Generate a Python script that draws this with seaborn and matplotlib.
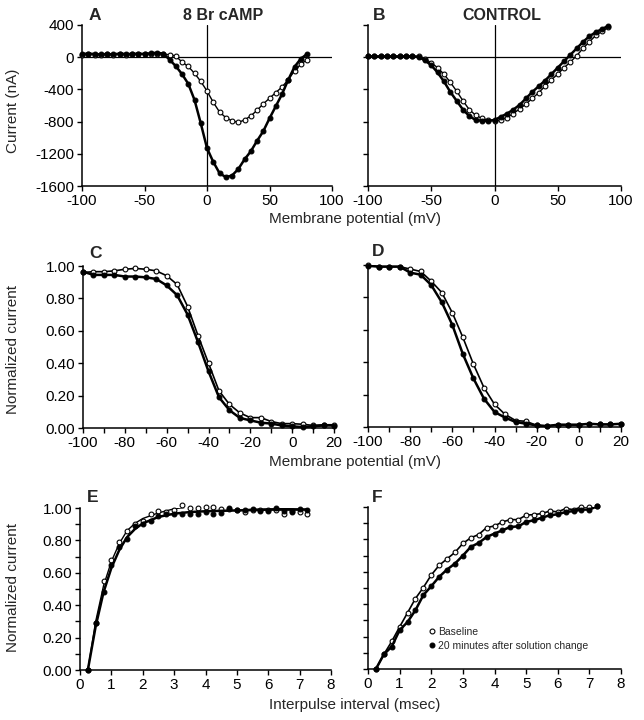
"""
Figura com seis painéis: curvas I-V (A, B), inativação em estado estacionário (C, D)
e recuperação da inativação (E, F), 8 Br cAMP vs controle.
"""
import numpy as np
import pandas as pd
import matplotlib.pyplot as plt
import seaborn as sns
from matplotlib.lines import Line2D
from matplotlib.ticker import MultipleLocator, FormatStrFormatter

LARGURA_PX, ALTURA_PX = 644, 720

# --- Painel A: 8 Br cAMP, curva I-V ---
a_potencial = [-100, -95, -90, -85, -80, -75, -70, -65, -60, -55, -50, -45, -40, -35,
               -30, -25, -20, -15, -10, -5, 0, 5, 10, 15, 20, 25, 30, 35, 40, 45,
               50, 55, 60, 65, 70, 75, 80]
a_basal = [30, 35, 30, 30, 35, 30, 35, 30, 35, 40, 35, 40, 45, 40,
           30, 15, -60, -115, -200, -300, -420, -560, -680, -750, -790, -810, -780, -730, -660, -580,
           -510, -440, -370, -280, -170, -90, -30]
a_20min = [40, 45, 40, 35, 40, 35, 45, 40, 40, 45, 40, 50, 55, 45,
           -30, -110, -210, -330, -530, -820, -1130, -1300, -1440, -1490, -1470, -1390, -1270, -1170, -1040, -920,
           -760, -610, -460, -280, -120, -20, 40]

# --- Painel B: controle, curva I-V ---
b_potencial = [-100, -95, -90, -85, -80, -75, -70, -65, -60, -55, -50, -45, -40, -35,
               -30, -25, -20, -15, -10, -5, 0, 5, 10, 15, 20, 25, 30, 35, 40, 45,
               50, 55, 60, 65, 70, 75, 80, 85, 90]
b_basal = [10, 10, 10, 10, 10, 10, 10, 10, 10, -20, -70, -130, -210, -310,
           -420, -540, -650, -720, -760, -780, -790, -780, -750, -700, -640, -580, -510, -440, -360, -280,
           -210, -130, -60, 20, 110, 190, 270, 320, 370]
b_20min = [10, 10, 10, 10, 10, 10, 10, 10, 5, -40, -100, -190, -300, -430,
           -540, -650, -730, -780, -790, -790, -780, -740, -700, -650, -590, -510, -430, -360, -290, -210,
           -130, -50, 30, 110, 190, 260, 310, 350, 390]

# --- Painéis C e D: inativação em estado estacionário ---
cd_potencial = [-100, -95, -90, -85, -80, -75, -70, -65, -60, -55, -50, -45, -40,
                -35, -30, -25, -20, -15, -10, -5, 0, 5, 10, 15, 20]
c_basal = [0.96, 0.965, 0.965, 0.97, 0.98, 0.985, 0.98, 0.97, 0.94, 0.886, 0.75, 0.57, 0.40,
           0.23, 0.146, 0.093, 0.064, 0.064, 0.04, 0.027, 0.027, 0.023, 0.016, 0.02, 0.02]
c_20min = [0.965, 0.945, 0.945, 0.945, 0.935, 0.935, 0.93, 0.92, 0.88, 0.82, 0.70, 0.53, 0.35,
           0.19, 0.11, 0.062, 0.047, 0.033, 0.027, 0.016, 0.01, 0.006, 0.01, 0.016, 0.015]
d_basal = [1.0, 0.99, 0.99, 0.99, 0.975, 0.96, 0.90, 0.83, 0.705, 0.553, 0.388, 0.243, 0.14,
           0.078, 0.04, 0.035, 0.01, 0.006, 0.014, 0.014, 0.014, 0.02, 0.016, 0.016, 0.02]
d_20min = [0.995, 0.99, 0.99, 0.99, 0.953, 0.94, 0.876, 0.77, 0.63, 0.45, 0.30, 0.175, 0.093,
           0.058, 0.031, 0.02, 0.01, 0.006, 0.014, 0.014, 0.014, 0.02, 0.016, 0.016, 0.02]

# --- Painéis E e F: recuperação da inativação ---
ef_intervalo = [0.25, 0.5, 0.75, 1.0, 1.25, 1.5, 1.75, 2.0, 2.25, 2.5, 2.75, 3.0, 3.25, 3.5, 3.75,
                4.0, 4.25, 4.5, 4.75, 5.0, 5.25, 5.5, 5.75, 6.0, 6.25, 6.5, 6.75, 7.0, 7.25]
e_basal = [0.0, 0.29, 0.55, 0.68, 0.79, 0.86, 0.90, 0.92, 0.96, 0.98, 0.975, 0.985, 1.02, 1.0, 1.0,
           1.005, 1.005, 0.995, 0.995, 0.99, 0.975, 0.99, 0.985, 0.985, 0.99, 0.965, 0.98, 0.975, 0.965]
e_20min = [0.0, 0.29, 0.48, 0.65, 0.76, 0.81, 0.89, 0.90, 0.92, 0.95, 0.96, 0.96, 0.965, 0.965, 0.96,
           0.975, 0.965, 0.97, 1.0, 0.985, 0.99, 0.995, 0.98, 0.98, 1.0, 0.98, 0.975, 0.995, 0.985]
# curvas ajustadas do painel E
e_ajuste_intervalo = [0.25, 0.5, 0.75, 1.0, 1.25, 1.5, 1.75, 2.0, 2.5, 3.0, 3.5, 4.0, 5.0, 6.0, 7.25]
e_ajuste_basal = [0.0, 0.30, 0.52, 0.67, 0.78, 0.86, 0.905, 0.935, 0.97, 0.995, 1.008, 1.01, 1.005, 1.0, 0.992]
e_ajuste_20min = [0.0, 0.27, 0.48, 0.63, 0.74, 0.82, 0.87, 0.905, 0.945, 0.965, 0.975, 0.98, 0.985, 0.99, 0.99]

f_basal = [0.0, 0.09, 0.17, 0.26, 0.347, 0.435, 0.503, 0.58, 0.64, 0.68, 0.72, 0.775, 0.81, 0.83, 0.873,
           0.883, 0.908, 0.922, 0.922, 0.95, 0.953, 0.96, 0.975, 0.97, 0.99, 0.984, 1.0, 1.0, 1.005]
f_20min = [0.0, 0.09, 0.138, 0.24, 0.29, 0.363, 0.456, 0.511, 0.569, 0.614, 0.651, 0.70, 0.754, 0.778, 0.815,
           0.836, 0.856, 0.877, 0.88, 0.908, 0.918, 0.934, 0.949, 0.955, 0.969, 0.975, 0.984, 0.984, 1.005]

rotulos_legenda = ['Baseline', '20 minutes after solution change']


def px(x, y):
    """Converte coordenadas em pixels (origem no topo) para fração da figura."""
    return x / LARGURA_PX, 1 - y / ALTURA_PX


def configurar_estilo():
    sns.set_theme(style='ticks')
    plt.rcParams.update({
        'font.family': ['Liberation Sans', 'DejaVu Sans'],
        'font.size': 11,
        'axes.unicode_minus': False,
        'axes.linewidth': 1.1,
        'axes.edgecolor': 'black',
        'axes.spines.top': False,
        'axes.spines.right': False,
        'xtick.color': 'black',
        'ytick.color': 'black',
        'xtick.labelsize': 11,
        'ytick.labelsize': 11,
        'xtick.major.size': 3.5,
        'ytick.major.size': 3.5,
        'xtick.minor.size': 3.5,
        'ytick.minor.size': 3.5,
        'xtick.major.width': 1.0,
        'ytick.major.width': 1.0,
        'xtick.minor.width': 1.0,
        'ytick.minor.width': 1.0,
        'xtick.major.pad': 2,
        'ytick.major.pad': 2,
    })


def desenhar_serie(ax, x, y, aberto, lw, z, linha_x=None, linha_y=None):
    linha_x = x if linha_x is None else linha_x
    linha_y = y if linha_y is None else linha_y
    sns.lineplot(x=linha_x, y=linha_y, ax=ax, color='black', lw=lw, sort=False,
                 estimator=None, zorder=z)
    sns.scatterplot(x=x, y=y, ax=ax, s=12, color='white' if aberto else 'black',
                    edgecolor='black', linewidth=0.8, zorder=z + 1, clip_on=False)


def painel(fig, esquerda, topo, direita, base):
    x0, y1 = px(esquerda, topo)
    x1, y0 = px(direita, base)
    ax = fig.add_axes([x0, y0, x1 - x0, y1 - y0])
    ax.set_facecolor('white')
    return ax


def main():
    configurar_estilo()
    fig = plt.figure(figsize=(LARGURA_PX / 100, ALTURA_PX / 100), dpi=100)
    fig.patch.set_facecolor('white')

    ax_a = painel(fig, 82, 25, 332, 186)
    ax_b = painel(fig, 368, 25, 621, 186)
    ax_c = painel(fig, 83, 266, 334, 428)
    ax_d = painel(fig, 368, 265, 621, 427)
    ax_e = painel(fig, 80, 508, 331, 670)
    ax_f = painel(fig, 368, 507, 621, 669)

    # curvas I-V
    for ax, xs, basal, vinte in [(ax_a, a_potencial, a_basal, a_20min),
                                 (ax_b, b_potencial, b_basal, b_20min)]:
        desenhar_serie(ax, xs, basal, True, 1.0, 2)
        desenhar_serie(ax, xs, vinte, False, 1.8, 4)
        ax.axhline(0, color='black', lw=0.9, zorder=1)
        ax.axvline(0, color='black', lw=0.9, zorder=1)
        ax.set_xlim(-100, 100)
        ax.set_ylim(-1600, 400)
        ax.set_xticks([-100, -50, 0, 50, 100])
        ax.set_yticks([-1600, -1200, -800, -400, 0, 400])
        ax.set_xlabel('')
        ax.set_ylabel('')
    ax_b.set_yticklabels([])

    # inativação
    for ax, basal, vinte in [(ax_c, c_basal, c_20min), (ax_d, d_basal, d_20min)]:
        desenhar_serie(ax, cd_potencial, basal, True, 1.2, 2)
        desenhar_serie(ax, cd_potencial, vinte, False, 1.8, 4)
        ax.set_xlim(-100, 20)
        ax.set_ylim(0, 1)
        ax.xaxis.set_major_locator(MultipleLocator(20))
        ax.xaxis.set_minor_locator(MultipleLocator(10))
        ax.yaxis.set_major_locator(MultipleLocator(0.2))
        ax.yaxis.set_major_formatter(FormatStrFormatter('%.2f'))
        ax.set_xlabel('')
        ax.set_ylabel('')
    ax_d.set_yticklabels([])

    # recuperação
    desenhar_serie(ax_e, ef_intervalo, e_basal, True, 1.0, 2, e_ajuste_intervalo, e_ajuste_basal)
    desenhar_serie(ax_e, ef_intervalo, e_20min, False, 1.8, 4, e_ajuste_intervalo, e_ajuste_20min)
    desenhar_serie(ax_f, ef_intervalo, f_basal, True, 1.2, 2)
    desenhar_serie(ax_f, ef_intervalo, f_20min, False, 1.8, 4)
    for ax in (ax_e, ax_f):
        ax.set_xlim(0, 8)
        ax.set_ylim(0, 1)
        ax.xaxis.set_major_locator(MultipleLocator(1))
        ax.yaxis.set_major_locator(MultipleLocator(0.2))
        ax.yaxis.set_minor_locator(MultipleLocator(0.1))
        ax.yaxis.set_major_formatter(FormatStrFormatter('%.2f'))
        ax.set_xlabel('')
        ax.set_ylabel('')
    ax_f.set_yticklabels([])

    # letras e títulos
    for letra, (x, y) in zip('ABCDEF', [(95, 15), (379, 15), (96, 253), (378, 252), (93, 498), (377, 498)]):
        fig.text(*px(x, y), letra, ha='center', va='center', fontsize=12.5, fontweight='bold')
    fig.text(*px(223, 15), '8 Br cAMP', ha='center', va='center', fontsize=11.5, fontweight='bold')
    fig.text(*px(502, 15), 'CONTROL', ha='center', va='center', fontsize=11.5, fontweight='bold')

    # rótulos dos eixos
    fig.text(*px(355, 219), 'Membrane potential (mV)', ha='center', va='center', fontsize=11)
    fig.text(*px(355, 462), 'Membrane potential (mV)', ha='center', va='center', fontsize=11)
    fig.text(*px(355, 705), 'Interpulse interval (msec)', ha='center', va='center', fontsize=11)
    fig.text(*px(13, 111), 'Current (nA)', ha='center', va='center', rotation=90, fontsize=11)
    fig.text(*px(13, 349), 'Normalized current', ha='center', va='center', rotation=90, fontsize=11)
    fig.text(*px(13, 587), 'Normalized current', ha='center', va='center', rotation=90, fontsize=11)

    # legenda
    alcas = [Line2D([], [], marker='o', ls='', ms=3.5, mfc='white', mec='black', mew=0.8),
             Line2D([], [], marker='o', ls='', ms=3.5, mfc='black', mec='black', mew=0.8)]
    fig.legend(alcas, rotulos_legenda, loc='upper left', bbox_to_anchor=px(429, 627),
               frameon=False, fontsize=7.5, handlelength=0.6, handletextpad=0.3,
               labelspacing=0.35, borderpad=0, borderaxespad=0)

    fig.savefig('out.png', dpi=100, facecolor='white')
    plt.close(fig)


if __name__ == '__main__':
    main()
